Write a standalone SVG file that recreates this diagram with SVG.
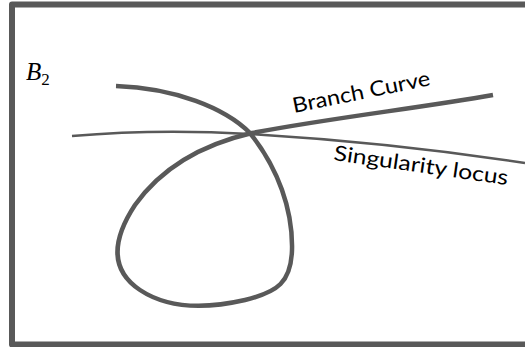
<svg xmlns="http://www.w3.org/2000/svg" width="525" height="347" viewBox="0 0 525 347">
<style>
.c{fill:none;stroke:#595959;stroke-linecap:butt;stroke-linejoin:round}
.lbl{font-family:Lato,"Open Sans","Liberation Sans",sans-serif;font-size:21px;fill:#000}
.math{font-family:"Liberation Serif",serif;font-style:italic;fill:#000}
</style>
<rect width="525" height="347" fill="#fff"/>
<g id="frame">
<path class="c" d="M525,4.5 H12 V344.5 H525" stroke-width="6"/>
</g>
<g id="label-B2">
<text class="math" x="26" y="80" font-size="25">B<tspan font-style="normal" font-size="17" dy="5">2</tspan></text>
</g>
<g id="connectors">
<path id="singularity" class="c" stroke-width="2.5" d="M72,136 C140,130 200,131 250,134 C350,140 440,150 525,163"/>
<path id="branch" class="c" stroke-width="4.5" d="M116,86 C175,88 225,108 250,133 C278,168 293,210 292,250 C291,282 278,292 245,300 C210,308 170,310 140,290 C110,270 112,240 135,205 C160,170 200,145 252,133 C330,118 420,108 493,95"/>
</g>
<g id="label-branch">
<text class="lbl" transform="translate(294,113) rotate(-11.5)" textLength="140" lengthAdjust="spacingAndGlyphs">Branch Curve</text>
</g>
<g id="label-singularity">
<text class="lbl" transform="translate(333,160) rotate(8.2)" textLength="176" lengthAdjust="spacingAndGlyphs">Singularity locus</text>
</g>
</svg>
